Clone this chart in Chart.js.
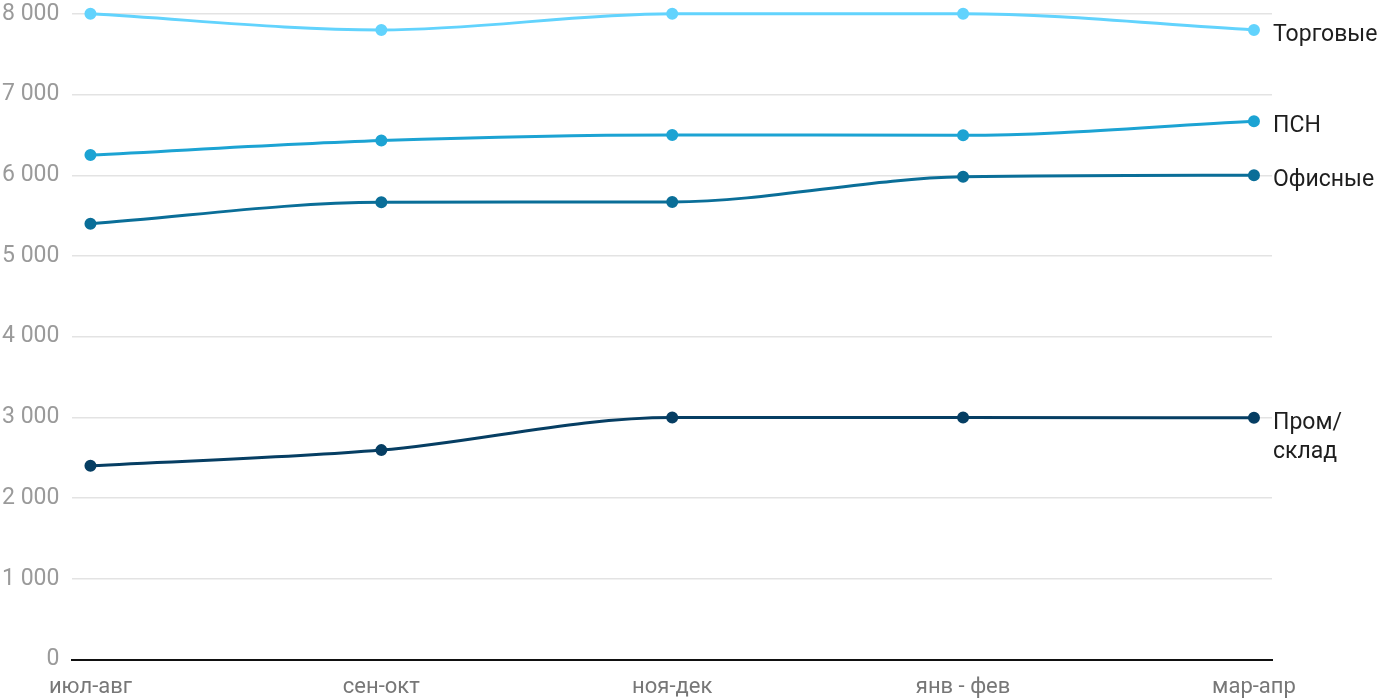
<!DOCTYPE html>
<html>
<head>
<meta charset="utf-8">
<script src="https://cdn.jsdelivr.net/npm/chart.js@4"></script>
<style>
  html, body { margin: 0; padding: 0; background: #fff; }
  #wrap { width: 1400px; height: 700px; }
</style>
</head>
<body>
<div id="wrap"><canvas id="lineChart"></canvas></div>
<script>
// periods
const periods = ["июл-авг", "сен-окт", "ноя-дек", "янв - фев", "мар-апр"];
// series
const torgovye = [8000, 7800, 8000, 8000, 7800];
const psn = [6250, 6430, 6500, 6495, 6670];
const ofisnye = [5400, 5665, 5670, 5980, 6000];
const promSklad = [2400, 2595, 3000, 3000, 2995];
const yTicks = [0, 1000, 2000, 3000, 4000, 5000, 6000, 7000, 8000];

function toPoints(arr) {
    return arr.map(function(v, i) { return {x: i, y: v}; });
}

function makeSet(label, data, color) {
    return {
        label: label,
        data: toPoints(data),
        borderColor: color,
        backgroundColor: color,
        pointBackgroundColor: color,
        pointBorderColor: color,
        borderWidth: 3,
        pointRadius: 4.5,
        pointHoverRadius: 4.5,
        cubicInterpolationMode: 'monotone',
        clip: false,
        fill: false
    };
}

// labels at the right end of each line
const endLabels = {
    id: 'endLabels',
    afterDatasetsDraw(chart) {
        const ctx = chart.ctx;
        ctx.save();
        ctx.font = '23px Roboto, "Noto Sans", sans-serif';
        ctx.fillStyle = '#1e1e1e';
        ctx.textAlign = 'left';
        ctx.textBaseline = 'middle';
        chart.data.datasets.forEach(function(ds, i) {
            const meta = chart.getDatasetMeta(i);
            const pt = meta.data[meta.data.length - 1];
            const lines = ds.label.split('\n');
            const x = chart.chartArea.right + 1;
            lines.forEach(function(t, j) {
                ctx.fillText(t, x, pt.y + 5 + j * 29);
            });
        });
        ctx.restore();
    }
};

new Chart(document.getElementById('lineChart').getContext('2d'), {
    type: 'line',
    data: {
        datasets: [
            makeSet('Торговые', torgovye, '#62d3fd'),
            makeSet('ПСН', psn, '#1ca3d3'),
            makeSet('Офисные', ofisnye, '#0a6e98'),
            makeSet('Пром/\nсклад', promSklad, '#063e63')
        ]
    },
    options: {
        responsive: true,
        maintainAspectRatio: false,
        animation: false,
        layout: { padding: { top: 2, right: 128, left: 2, bottom: -16 } },
        plugins: { legend: { display: false }, tooltip: { enabled: false } },
        scales: {
            x: {
                type: 'linear',
                min: -0.062,
                max: 4.062,
                afterBuildTicks: function(axis) {
                    axis.ticks = periods.map(function(p, i) { return {value: i}; });
                },
                ticks: {
                    autoSkip: false,
                    maxRotation: 0,
                    padding: 15,
                    color: '#777',
                    font: { family: 'Roboto', size: 22 },
                    callback: function(v) { return periods[v]; }
                },
                grid: { display: false, drawTicks: false },
                border: { display: true, color: '#111', width: 2 }
            },
            y: {
                min: 0,
                max: 8000,
                afterBuildTicks: function(axis) {
                    axis.ticks = yTicks.map(function(v) { return {value: v}; });
                },
                ticks: {
                    padding: 0,
                    color: '#9a9a9a',
                    font: { family: 'Roboto', size: 23 },
                    callback: function(v) {
                        return String(v).replace(/\B(?=(\d{3})+(?!\d))/g, ' ');
                    }
                },
                grid: { color: '#e3e3e3', lineWidth: 1.5, drawTicks: true, tickLength: 13, tickColor: 'rgba(0,0,0,0)' },
                border: { display: false }
            }
        }
    },
    plugins: [endLabels]
});
</script>
</body>
</html>
